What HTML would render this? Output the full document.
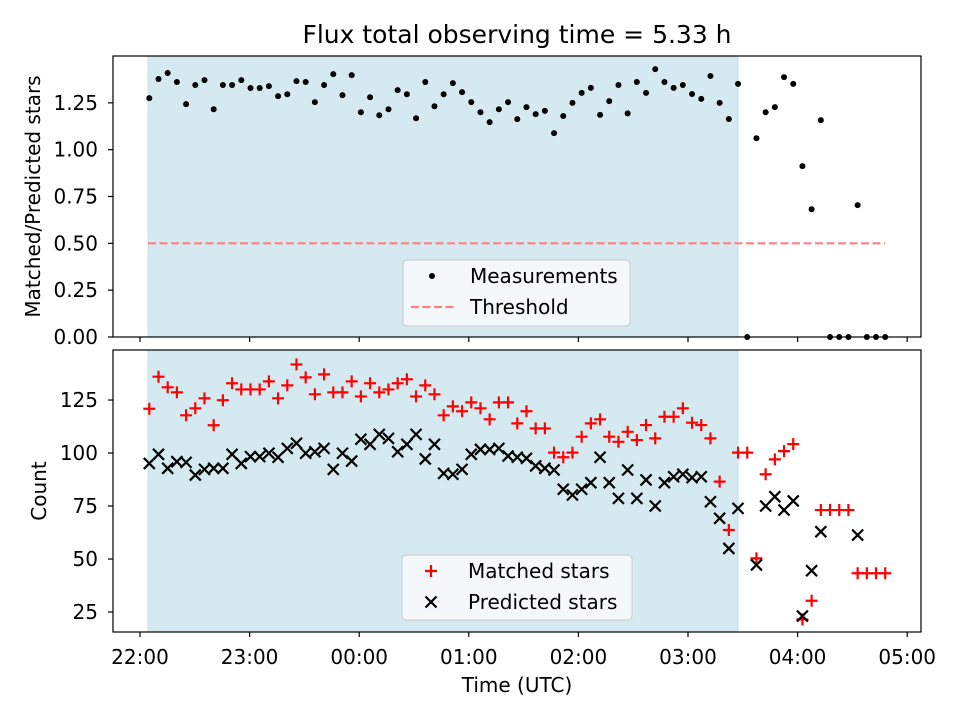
<!DOCTYPE html>
<html><head><meta charset="utf-8">
<style>
html,body{margin:0;padding:0;background:#fff;}
svg{display:block;font-family:"DejaVu Sans","Liberation Sans",sans-serif;}
</style></head>
<body>
<svg id="chart" width="960" height="720" viewBox="0 0 960 720"></svg>
<script>
// ---- data ----
const startMinute = 5.09;   // minutes after 22:00 of first sample
const stepMinutes = 5.036;  // cadence
const shadeStart = 4.4, shadeEnd = 327.4; // minutes after 22:00
const threshold = 0.5;
const thresholdEnd = 408;
const ratioValues = [1.275,1.377,1.409,1.361,1.243,1.345,1.371,1.216,1.345,1.345,1.371,1.329,1.329,1.339,1.286,1.296,1.366,1.361,1.254,1.345,1.403,1.291,1.398,1.200,1.280,1.184,1.216,1.318,1.296,1.168,1.361,1.232,1.296,1.355,1.307,1.254,1.200,1.147,1.216,1.254,1.163,1.227,
1.190,1.207,1.088,1.180,1.250,1.303,1.330,1.186,1.259,1.345,1.194,1.361,1.303,1.430,1.361,1.330,1.345,1.297,1.271,1.393,1.250,1.164,1.351,
0,1.061,1.200,1.227,1.387,1.351,0.912,0.682,1.158,0,0,0,0.704,0,0,0];
const matchedValues = [120.9,136.0,131.0,128.6,117.8,121.1,125.8,113.1,124.9,132.9,130.0,130.0,130.0,133.8,125.8,131.9,141.8,135.7,127.7,137.1,128.6,128.6,133.8,126.7,132.9,128.6,130.0,132.9,134.8,126.7,131.9,127.7,117.8,122.0,119.7,123.9,121.1,115.9,123.9,123.9,114.0,119.7,
111.6,111.6,100.2,98.0,100.2,107.7,114.0,115.9,107.7,105.3,110.0,106.1,113.2,106.9,117.1,117.1,121.1,114.3,113.2,106.9,86.5,63.7,100.2,
100.2,50.3,90.0,97.0,100.9,104.2,21.5,30.3,73.1,73.1,73.1,73.1,43.3,43.3,43.3,43.3];
const predictedValues = [95.1,99.4,92.8,95.9,95.6,89.6,92.3,92.8,92.8,99.4,95.1,98.3,98.3,99.9,98.0,102.2,104.6,99.9,100.6,102.2,92.3,99.9,96.2,106.5,104.1,108.8,106.9,100.6,104.1,108.8,97.2,104.1,90.4,90.0,92.3,99.4,101.7,101.7,102.2,98.6,98.0,97.5,
93.9,92.8,92.0,82.9,80.2,82.9,86.0,98.0,86.0,78.6,92.0,78.6,87.3,75.0,86.0,88.8,90.0,88.4,88.8,77.0,69.2,55.0,73.9,
null,47.2,75.0,79.4,73.1,77.4,23.1,44.5,62.9,null,null,null,61.3,null,null,null];
const xTickLabels = ["22:00","23:00","00:00","01:00","02:00","03:00","04:00","05:00"];
const topYTicks = [0,0.25,0.5,0.75,1.0,1.25];
const botYTicks = [25,50,75,100,125];

// ---- scales ----
const X0=113, X1=921;
const xs = m => 140 + m*109.6/60;
const topP = {y0:56,y1:337,min:0,max:1.5};
const botP = {y0:350,y1:632,min:15.57,max:148.6};
const ysT = v => topP.y1 - (v-topP.min)/(topP.max-topP.min)*(topP.y1-topP.y0);
const ysB = v => botP.y1 - (v-botP.min)/(botP.max-botP.min)*(botP.y1-botP.y0);
const tOf = i => startMinute + i*stepMinutes;

const svg = document.getElementById('chart');
const NS='http://www.w3.org/2000/svg';
function mk(tag, attrs, parent){const e=document.createElementNS(NS,tag);for(const k in attrs)e.setAttribute(k,attrs[k]);(parent||svg).appendChild(e);return e;}
function txt(s, attrs, parent){const e=mk('text',attrs,parent);e.textContent=s;return e;}

const ttl=txt('Flux total observing time = 5.33 h',{x:517,y:43,'font-size':'25','text-anchor':'middle',fill:'#000'});



function panel(p, ys, yticks, fmt, name, ylabel, showXLabels, ylx){
  const g=mk('g',{});
  
  
  const sh=mk('rect',{x:xs(shadeStart),y:p.y0,width:xs(shadeEnd)-xs(shadeStart),height:p.y1-p.y0,fill:'#d4eaf0',stroke:'#c4e2ea','stroke-width':'1'},g);
  
  
  yticks.forEach(v=>{
    const y=ys(v);
    mk('line',{x1:X0-5,x2:X0,y1:y,y2:y,stroke:'#000','stroke-width':'1.2'},g);
    const l=txt(fmt(v),{x:X0-15,y:y+7,'font-size':'20','text-anchor':'end'},g);
    
    
  });
  xTickLabels.forEach((s,i)=>{
    const x=xs(i*60);
    mk('line',{x1:x,x2:x,y1:p.y1,y2:p.y1+5,stroke:'#000','stroke-width':'1.2'},g);
    if(showXLabels){
      const l=txt(s,{x:x,y:p.y1+32,'font-size':'20','text-anchor':'middle'},g);
      
      
    }
  });
  const yl=txt(ylabel,{x:0,y:0,'font-size':'20','text-anchor':'middle',transform:'translate('+ylx+','+((p.y0+p.y1)/2)+') rotate(-90)'},g);
  
  
  return g;
}
const gT=panel(topP,ysT,topYTicks,v=>v.toFixed(2),'top-panel','Matched/Predicted stars',false,40);
const gB=panel(botP,ysB,botYTicks,v=>String(v),'bottom-panel','Count',true,46);

const th=mk('line',{x1:xs(shadeStart),x2:xs(thresholdEnd),y1:ysT(threshold),y2:ysT(threshold),stroke:'#ff8080','stroke-width':'2.2','stroke-dasharray':'8,3.5'},gT);


ratioValues.forEach((v,i)=>{
  const c=mk('circle',{cx:xs(tOf(i)),cy:ysT(v),r:3,fill:'#000'},gT);
  
  
});
matchedValues.forEach((v,i)=>{
  if(v===null)return;
  const x=xs(tOf(i)),y=ysB(v);
  const p=mk('path',{d:'M'+(x-6)+','+y+'H'+(x+6)+'M'+x+','+(y-6)+'V'+(y+6),stroke:'#ff0000','stroke-width':'2.2',fill:'none'},gB);
  
  
});
predictedValues.forEach((v,i)=>{
  if(v===null)return;
  const x=xs(tOf(i)),y=ysB(v);
  const p=mk('path',{d:'M'+(x-5.5)+','+(y-5.5)+'L'+(x+5.5)+','+(y+5.5)+'M'+(x-5.5)+','+(y+5.5)+'L'+(x+5.5)+','+(y-5.5),stroke:'#000','stroke-width':'2.2',fill:'none'},gB);
  
  
});
[topP,botP].forEach((p,k)=>{
  const r=mk('rect',{x:X0,y:p.y0,width:X1-X0,height:p.y1-p.y0,fill:'none',stroke:'#000','stroke-width':'1.2'});
  
  
});
const xl=txt('Time (UTC)',{x:517,y:692,'font-size':'20','text-anchor':'middle'});



function legend(x,y,w,h,items,name,tx){
  const g=mk('g',{});
  
  
  mk('rect',{x:x,y:y,width:w,height:h,rx:4,fill:'#f7fafc','fill-opacity':'0.9',stroke:'#d0d0d0','stroke-width':'1.2'},g);
  items.forEach((it,i)=>{
    const cy=y+16+i*31, cx=x+29;
    if(it.k==='dot')mk('circle',{cx:cx,cy:cy,r:3,fill:'#000'},g);
    if(it.k==='dash')mk('line',{x1:cx-21,x2:cx+22,y1:cy,y2:cy,stroke:'#ff8080','stroke-width':'2.2','stroke-dasharray':'8,3.5'},g);
    if(it.k==='plus')mk('path',{d:'M'+(cx-6)+','+cy+'H'+(cx+6)+'M'+cx+','+(cy-6)+'V'+(cy+6),stroke:'#ff0000','stroke-width':'2.2'},g);
    if(it.k==='x')mk('path',{d:'M'+(cx-5.5)+','+(cy-5.5)+'L'+(cx+5.5)+','+(cy+5.5)+'M'+(cx-5.5)+','+(cy+5.5)+'L'+(cx+5.5)+','+(cy-5.5),stroke:'#000','stroke-width':'2.2'},g);
    const l=txt(it.s,{x:tx,y:cy+7,'font-size':'20'},g);
    
    
  });
}
legend(403,260,227,66,[{k:'dot',s:'Measurements'},{k:'dash',s:'Threshold'}],'top-legend',470);
legend(402,555,230,65,[{k:'plus',s:'Matched stars'},{k:'x',s:'Predicted stars'}],'bottom-legend',468);
</script>
</body></html>
